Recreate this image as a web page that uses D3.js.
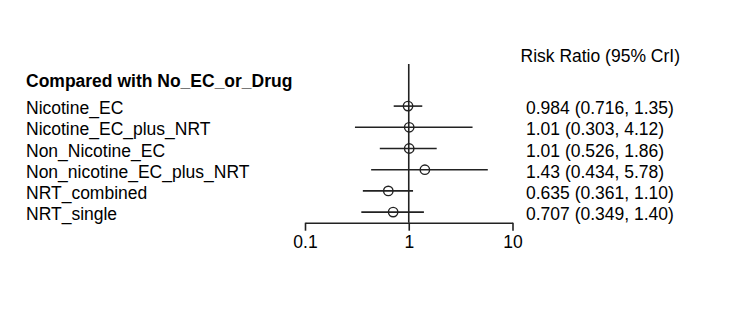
<!DOCTYPE html>
<html lang="en">
<head>
    <meta charset="UTF-8" />
    <title>Forest plot</title>
    <script src="https://d3js.org/d3.v7.min.js"></script>
    <style>
        body {
            margin: 0;
            background: #fff;
            font-family: Arial, "Liberation Sans", sans-serif;
        }
        svg text {
            font-size: 17.5px;
            fill: #000;
        }
    </style>
</head>
<body>
    <svg id="forest" width="732" height="317"></svg>

    <script>
        // --- Daten ---
        const treatments = ["Nicotine_EC", "Nicotine_EC_plus_NRT", "Non_Nicotine_EC",
            "Non_nicotine_EC_plus_NRT", "NRT_combined", "NRT_single"];
        const rr = [0.984, 1.01, 1.01, 1.43, 0.635, 0.707];
        const lower = [0.716, 0.303, 0.526, 0.434, 0.361, 0.349];
        const upper = [1.35, 4.12, 1.86, 5.78, 1.10, 1.40];
        const labels = ["0.984 (0.716, 1.35)", "1.01 (0.303, 4.12)", "1.01 (0.526, 1.86)",
            "1.43 (0.434, 5.78)", "0.635 (0.361, 1.10)", "0.707 (0.349, 1.40)"];
        const tickValues = [0.1, 1, 10];
        const tickLabels = ["0.1", "1", "10"];

        const svg = d3.select("#forest");
        const ink = "#222";

        const x = d3.scaleLog().domain([0.1, 10]).range([305, 512.5]);
        const y = d3.scaleBand().domain(treatments).range([95.5, 222.7]);
        const cy = d => y(d) + y.bandwidth() / 2;
        const axisY = 222.7;

        // Kopfzeilen
        svg.append("text")
            .attr("x", 26).attr("y", 86.5)
            .style("font-weight", "bold")
            .text("Compared with No_EC_or_Drug");
        svg.append("text")
            .attr("x", 520.5).attr("y", 61.5)
            .text("Risk Ratio (95% CrI)");

        // Referenzlinie bei 1
        svg.append("line")
            .attr("x1", x(1)).attr("x2", x(1))
            .attr("y1", 64).attr("y2", axisY)
            .attr("stroke", ink).attr("stroke-width", 1.6);

        // Achse
        const axis = svg.append("g")
            .attr("transform", `translate(0,${axisY})`)
            .call(d3.axisBottom(x)
                .tickValues(tickValues)
                .tickFormat((d, i) => tickLabels[i])
                .tickSizeInner(8)
                .tickSizeOuter(0)
                .tickPadding(5));
        axis.select(".domain").attr("stroke", ink).attr("stroke-width", 1.6);
        axis.selectAll(".tick line").attr("stroke", ink).attr("stroke-width", 1.6);
        axis.selectAll(".tick text")
            .style("font-size", "17.5px")
            .style("font-family", "Arial, 'Liberation Sans', sans-serif")
            .attr("fill", "#000");

        const rows = treatments.map((t, i) => ({
            name: t, rr: rr[i], lo: lower[i], hi: upper[i], label: labels[i]
        }));

        // Zeilennamen
        svg.selectAll(".name").data(rows).join("text")
            .attr("class", "name")
            .attr("x", 26)
            .attr("y", d => cy(d.name) + 8)
            .text(d => d.name);

        // Intervalle
        svg.selectAll(".ci").data(rows).join("line")
            .attr("class", "ci")
            .attr("x1", d => x(d.lo)).attr("x2", d => x(d.hi))
            .attr("y1", d => cy(d.name)).attr("y2", d => cy(d.name))
            .attr("stroke", ink).attr("stroke-width", 1.6);

        // Punktschätzer
        svg.selectAll(".pt").data(rows).join("circle")
            .attr("class", "pt")
            .attr("cx", d => x(d.rr))
            .attr("cy", d => cy(d.name))
            .attr("r", 4.7)
            .attr("fill", "none")
            .attr("stroke", ink).attr("stroke-width", 1.4);

        // Werte rechts
        svg.selectAll(".val").data(rows).join("text")
            .attr("class", "val")
            .attr("x", 526)
            .attr("y", d => cy(d.name) + 8)
            .text(d => d.label);
    </script>
</body>
</html>
